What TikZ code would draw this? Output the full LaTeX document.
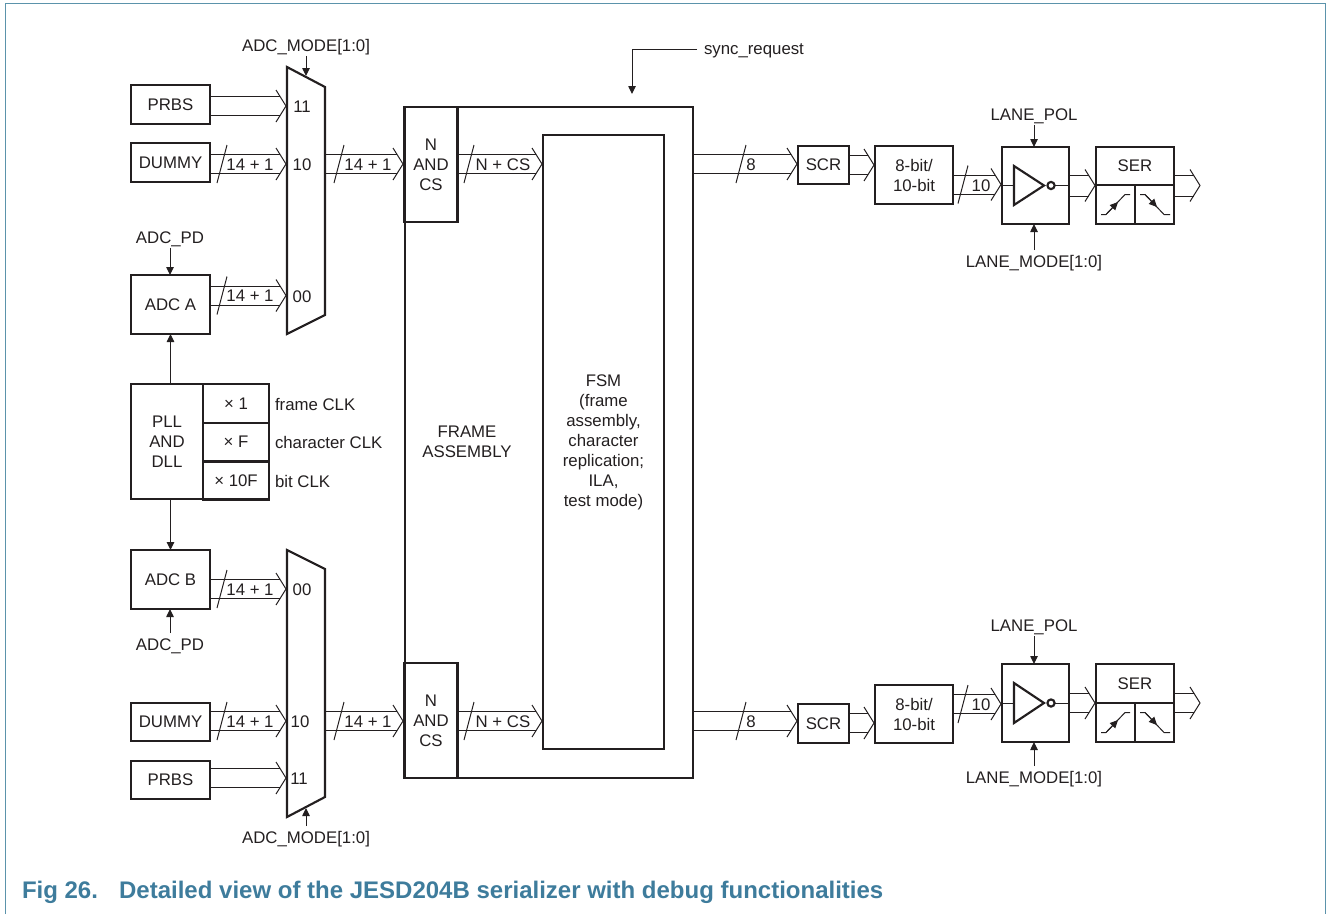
\documentclass[tikz,border=0pt]{standalone}
\usepackage{fontspec}
\setmainfont{Liberation Sans}
\usetikzlibrary{arrows.meta,calc}
\definecolor{ink}{HTML}{231F20}
\definecolor{nxp}{HTML}{3E7C9C}
\definecolor{framec}{HTML}{5B93AB}
\tikzset{
  every node/.style={font=\fontsize{12.6}{15}\selectfont,text=ink,inner sep=0pt,outer sep=0pt},
  boxn/.style 2 args={draw=ink,line width=1.6pt,minimum width=#1*0.75pt,minimum height=#2*0.75pt,align=center},
  lab/.style={text height=9pt,text depth=0pt,outer ysep=3.6pt},
  txt/.style={text height=9pt,text depth=0pt},
  thinl/.style={draw=ink,line width=0.75pt},
  heavy/.style={draw=ink,line width=1.6pt,line join=miter},
  sig/.style={draw=ink,line width=0.75pt,-{Triangle[length=6pt,width=5.6pt]}},
}
\newcommand{\busline}[3][9.5]{%
  \coordinate (bs) at (#2 |- #3);
  \draw[thinl] ([shift={(0,#1)}]bs) -- ([shift={(-5.9,#1)}]#3);
  \draw[thinl] ([shift={(0,-#1)}]bs) -- ([shift={(-5.9,-#1)}]#3);
  \draw[thinl] ([shift={(-10,-16)}]#3) -- (#3) -- ([shift={(-10,16)}]#3);
}
\newcommand{\busslash}[2]{%
  \coordinate (sa) at (#1,0);
  \coordinate (sb) at (sa |- #2);
  \draw[thinl] ([shift={(-5,19)}]sb) -- ([shift={(5,-19)}]sb);
}
\begin{document}
\begin{tikzpicture}[x=0.75pt,y=-0.75pt]
\useasboundingbox (0,0) rectangle (1327,914);
% page frame
\draw[framec,line width=1.1pt] (5.5,914) -- (5.5,3.5) -- (1325.5,3.5) -- (1325.5,914);
% ---------- big frame
\node[boxn={288}{671}] (frame) at (549,442.5) {};
\node[boxn={121}{614}] (fsm) at (603.5,442) {FSM\\(frame\\assembly,\\character\\replication;\\ILA,\\test mode)};
\node[align=center] (fa) at (467,442) {FRAME\\ASSEMBLY};
\node[boxn={53}{115}] (ncsA) at (431,164.5) {N\\AND\\CS};
\node[boxn={53}{115}] (ncsB) at (431,720.5) {N\\AND\\CS};
% ---------- left sources
\node[boxn={79}{39}] (prbsA) at (170.5,104.5) {PRBS};
\node[boxn={79}{39}] (dumA) at (170.5,162.5) {DUMMY};
\node[boxn={79}{59}] (adcA) at (170.5,304.5) {ADC A};
\node[boxn={79}{59}] (adcB) at (170.5,579.5) {ADC B};
\node[boxn={79}{38}] (dumB) at (170.5,722) {DUMMY};
\node[boxn={79}{38}] (prbsB) at (170.5,780) {PRBS};
% PLL
\node[boxn={72}{115}] (pll) at (167,441.5) {PLL\\AND\\DLL};
\node[boxn={66}{39}] (x1) at (236,403.5) {× 1};
\node[boxn={66}{38}] (xf) at (236,442) {× F};
\node[boxn={66}{38}] (x10) at (236,480.5) {× 10F};
\node[txt,anchor=west] (cf) at (275,404) {frame CLK};
\node[txt,anchor=west] (cc) at (275,442) {character CLK};
\node[txt,anchor=west] (cb) at (275,481) {bit CLK};
\draw[sig] (pll.north -| adcA) -- (adcA.south);
\draw[sig] (pll.south -| adcB) -- (adcB.north);
% ---------- muxes
\draw[heavy] (287,67) -- (325,87) -- (325,315) -- (287,334) -- cycle;
\draw[heavy] (287,550) -- (325,569) -- (325,797) -- (287,817) -- cycle;
\coordinate (mAtop) at (306,76);
\coordinate (mBbot) at (306,808);
\coordinate (mA11) at (286,106);
\coordinate (mA10) at (286,164);
\coordinate (mA00) at (286,295.5);
\coordinate (mB00) at (286,589);
\coordinate (mB10) at (286,721);
\coordinate (mB11) at (286,778);
\coordinate (mAout) at (325,164);
\coordinate (mBout) at (325,721);
\node[txt] (tA11) at (302,106) {11};
\node[txt] (tA10) at (302,164) {10};
\node[txt] (tA00) at (302,296) {00};
\node[txt] (tB00) at (302,589) {00};
\node[txt] (tB10) at (300,721) {10};
\node[txt] (tB11) at (299,778) {11};
\node[lab] (modeA) at (306,45) {ADC\_MODE[1:0]};
\node[lab] (modeB) at (306,837) {ADC\_MODE[1:0]};
\draw[sig] (modeA.south) -- (mAtop);
\draw[sig] (modeB.north) -- (mBbot);
\node[lab] (pdA) at (170,237) {ADC\_PD};
\node[lab] (pdB) at (170,644) {ADC\_PD};
\draw[sig] (pdA.south) -- (pdA.south |- adcA.north);
\draw[sig] (pdB.north) -- (pdB.north |- adcB.south);
% ---------- buses, left
\busline{prbsA.east}{mA11}
\busline{dumA.east}{mA10}\busslash{222}{mA10}\node[txt] (l1) at (250,164) {14 + 1};
\busline{adcA.east}{mA00}\busslash{222}{mA00}\node[txt] (l2) at (250,295.5) {14 + 1};
\busline{adcB.east}{mB00}\busslash{222}{mB00}\node[txt] (l3) at (250,589) {14 + 1};
\busline{dumB.east}{mB10}\busslash{222}{mB10}\node[txt] (l4) at (250,721) {14 + 1};
\busline{prbsB.east}{mB11}
\coordinate (ncsAin) at (403,164);
\coordinate (ncsBin) at (403,721);
\busline{mAout}{ncsAin}\busslash{339}{ncsAin}\node[txt] (l5) at (368,164) {14 + 1};
\busline{mBout}{ncsBin}\busslash{339}{ncsBin}\node[txt] (l6) at (368,721) {14 + 1};
\coordinate (fsmAin) at (542,164);
\coordinate (fsmBin) at (542,721);
\busline{ncsA.east}{fsmAin}\busslash{469}{fsmAin}\node[txt] (l7) at (503,164) {N + CS};
\busline{ncsB.east}{fsmBin}\busslash{469}{fsmBin}\node[txt] (l8) at (503,721) {N + CS};
% sync request
\node[txt,anchor=west] (sync) at (704,48) {sync\_request};
\coordinate (syncs) at (697,49);
\coordinate (syncc) at (632,49);
\coordinate (synct) at (632,94);
\draw[sig] (syncs) -- (syncc) -- (synct);
% ---------- upper lane
\node[boxn={51}{38}] (scrA) at (823.5,165) {SCR};
\node[boxn={78}{58}] (encA) at (914,175) {8-bit/\\10-bit};
\node[boxn={67}{77}] (invA) at (1035.5,185.5) {};
\node[boxn={78}{38}] (serA) at (1135,166) {SER};
\node[boxn={39}{39}] (riseA) at (1115.5,204.5) {};
\node[boxn={39}{39}] (fallA) at (1154.5,204.5) {};
\coordinate (scrAin) at (797,164);
\coordinate (encAin) at (874,165);
\coordinate (invAin) at (1001,184.5);
\coordinate (serAin) at (1095,185.5);
\coordinate (outA) at (1200,185.5);
\busline{frame.east}{scrAin}\busslash{741}{scrAin}\node[txt] (l9) at (751,164) {8};
\busline{scrA.east}{encAin}
\busline{encA.east}{invAin}\busslash{963}{invAin}\node[txt] (l10) at (981,185) {10};
\busline[10.5]{invA.east}{serAin}
\busline[10.5]{serA.east}{outA}
\node[lab] (polA) at (1034,114) {LANE\_POL};
\node[lab] (lmA) at (1034,261) {LANE\_MODE[1:0]};
\draw[sig] (polA.south) -- (polA.south |- invA.north);
\draw[sig] (lmA.north) -- (lmA.north |- invA.south);
\draw[heavy,line join=miter] (1014,166) -- (1044,185.5) -- (1014,205) -- cycle;
\draw[heavy] (1051,185.5) circle[radius=3.6];
\draw[thinl] (invA.west |- 0,185.5) -- (1014,185.5);
\draw[thinl] (1055,185.5) -- (invA.east |- 0,185.5);
\draw[thinl] (1101,214.5) -- (1106,214.5) -- (1125,194.5) -- (1130,194.5);
\draw[thinl,-{Triangle[length=6pt,width=5.6pt]}] (1106,214.5) -- (1118,202);
\draw[thinl] (1140,194.5) -- (1145,194.5) -- (1164,214.5) -- (1170,214.5);
\draw[thinl,-{Triangle[length=6pt,width=5.6pt]}] (1145,194.5) -- (1157,207);
% ---------- lower lane
\node[boxn={51}{39}] (scrB) at (823.5,723.5) {SCR};
\node[boxn={78}{58}] (encB) at (914,714) {8-bit/\\10-bit};
\node[boxn={67}{78}] (invB) at (1035.5,703) {};
\node[boxn={78}{39}] (serB) at (1135,683.5) {SER};
\node[boxn={39}{39}] (riseB) at (1115.5,722.5) {};
\node[boxn={39}{39}] (fallB) at (1154.5,722.5) {};
\coordinate (scrBin) at (797,721);
\coordinate (encBin) at (874,723);
\coordinate (invBin) at (1001,704);
\coordinate (serBin) at (1095,703);
\coordinate (outB) at (1200,703);
\busline{frame.east}{scrBin}\busslash{741}{scrBin}\node[txt] (l11) at (751,721) {8};
\busline{scrB.east}{encBin}
\busline{encB.east}{invBin}\busslash{963}{invBin}\node[txt] (l12) at (981,704) {10};
\busline{invB.east}{serBin}
\busline{serB.east}{outB}
\node[lab] (polB) at (1034,625) {LANE\_POL};
\node[lab] (lmB) at (1034,777) {LANE\_MODE[1:0]};
\draw[sig] (polB.south) -- (polB.south |- invB.north);
\draw[sig] (lmB.north) -- (lmB.north |- invB.south);
\draw[heavy,line join=miter] (1014,683) -- (1044,703) -- (1014,723) -- cycle;
\draw[heavy] (1051,703) circle[radius=3.6];
\draw[thinl] (invB.west |- 0,703) -- (1014,703);
\draw[thinl] (1055,703) -- (invB.east |- 0,703);
\draw[thinl] (1101,732.5) -- (1106,732.5) -- (1125,712.5) -- (1130,712.5);
\draw[thinl,-{Triangle[length=6pt,width=5.6pt]}] (1106,732.5) -- (1118,720);
\draw[thinl] (1140,712.5) -- (1145,712.5) -- (1164,732.5) -- (1170,732.5);
\draw[thinl,-{Triangle[length=6pt,width=5.6pt]}] (1145,712.5) -- (1157,725);
% caption
\node[anchor=base west,text=nxp,font=\fontsize{18}{22}\selectfont\bfseries] (cap) at (22,898) {Fig 26.\hspace{0.88em}Detailed view of the JESD204B serializer with debug functionalities};
\end{tikzpicture}
\end{document}
